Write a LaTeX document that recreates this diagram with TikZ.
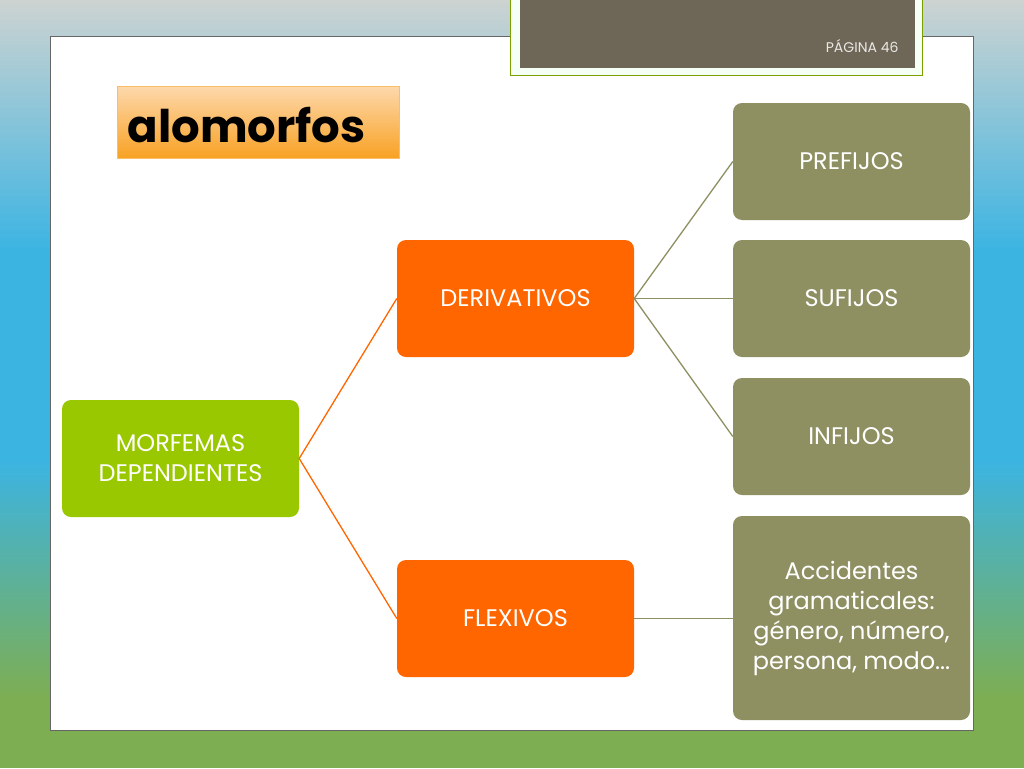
\documentclass[tikz,border=0pt]{standalone}
\usepackage{fontspec}
\setmainfont{Poppins}
\definecolor{fondoazul}{HTML}{3CB4E2}
\definecolor{fondoverde}{HTML}{7EAE52}
\definecolor{fondogris}{HTML}{CDD3D1}
\definecolor{pardo}{HTML}{6E6757}
\definecolor{naranja}{HTML}{FF6600}
\definecolor{lima}{HTML}{99C800}
\definecolor{oliva}{HTML}{8E9062}
\definecolor{melocoton}{HTML}{FDD8AC}
\definecolor{ambar}{HTML}{F8A224}
\tikzset{
  caja/.style={rounded corners=9pt, minimum width=237pt, minimum height=117pt, text=white,
    align=center, font=\fontsize{24}{30}\selectfont, inner sep=0pt},
  deriv/.style={caja, fill=naranja},
  raiz/.style={caja, fill=lima},
  hoja/.style={caja, fill=oliva},
  linea/.style={line width=1.3pt}
}
\begin{document}
\begin{tikzpicture}[x=1pt,y=-1pt]
  \useasboundingbox (0,0) rectangle (1024,768);
  \shade[top color=fondogris, bottom color=fondoazul] (0,0) rectangle (1024,250);
  \fill[fondoazul] (0,249) rectangle (1024,461);
  \shade[top color=fondoazul, bottom color=fondoverde] (0,460) rectangle (1024,700);
  \fill[fondoverde] (0,699) rectangle (1024,768);
  \fill[white, draw=gray!80!black, line width=1pt] (50,37) rectangle (973,730);
  \fill[green!4, draw=lima!80!black, line width=1pt] (510,-2) rectangle (922,75);
  \fill[pardo] (520,-2) rectangle (915,68);
  \node[anchor=east, text=white!85!pardo, font=\fontsize{14}{16}\selectfont] (pagina) at (902,46) {PÁGINA 46};
  \shade[top color=melocoton, bottom color=ambar, draw=ambar!70] (117,86) rectangle (399,158);
  \node[anchor=west, font=\fontsize{45}{48}\bfseries\selectfont] (titulo) at (124,125) {alomorfos};
  \node[raiz] (morf) at (180.5,458.5) {MORFEMAS\\DEPENDIENTES};
  \node[deriv] (der) at (515.5,298.5) {DERIVATIVOS};
  \node[deriv] (flex) at (515.5,618.5) {FLEXIVOS};
  \node[hoja] (pre) at (851.5,161.5) {PREFIJOS};
  \node[hoja] (suf) at (851.5,298.5) {SUFIJOS};
  \node[hoja] (inf) at (851.5,436.5) {INFIJOS};
  \node[hoja, minimum height=204pt] (acc) at (851.5,618) {Accidentes\\gramaticales:\\género, número,\\persona, modo...};
  \foreach \d in {der,flex} \draw[linea, naranja] (morf.east) -- (\d.west);
  \foreach \h in {pre,suf,inf} \draw[linea, oliva] (der.east) -- (\h.west);
  \draw[linea, oliva] (flex.east) -- (acc.west |- flex.east);
\end{tikzpicture}
\end{document}
